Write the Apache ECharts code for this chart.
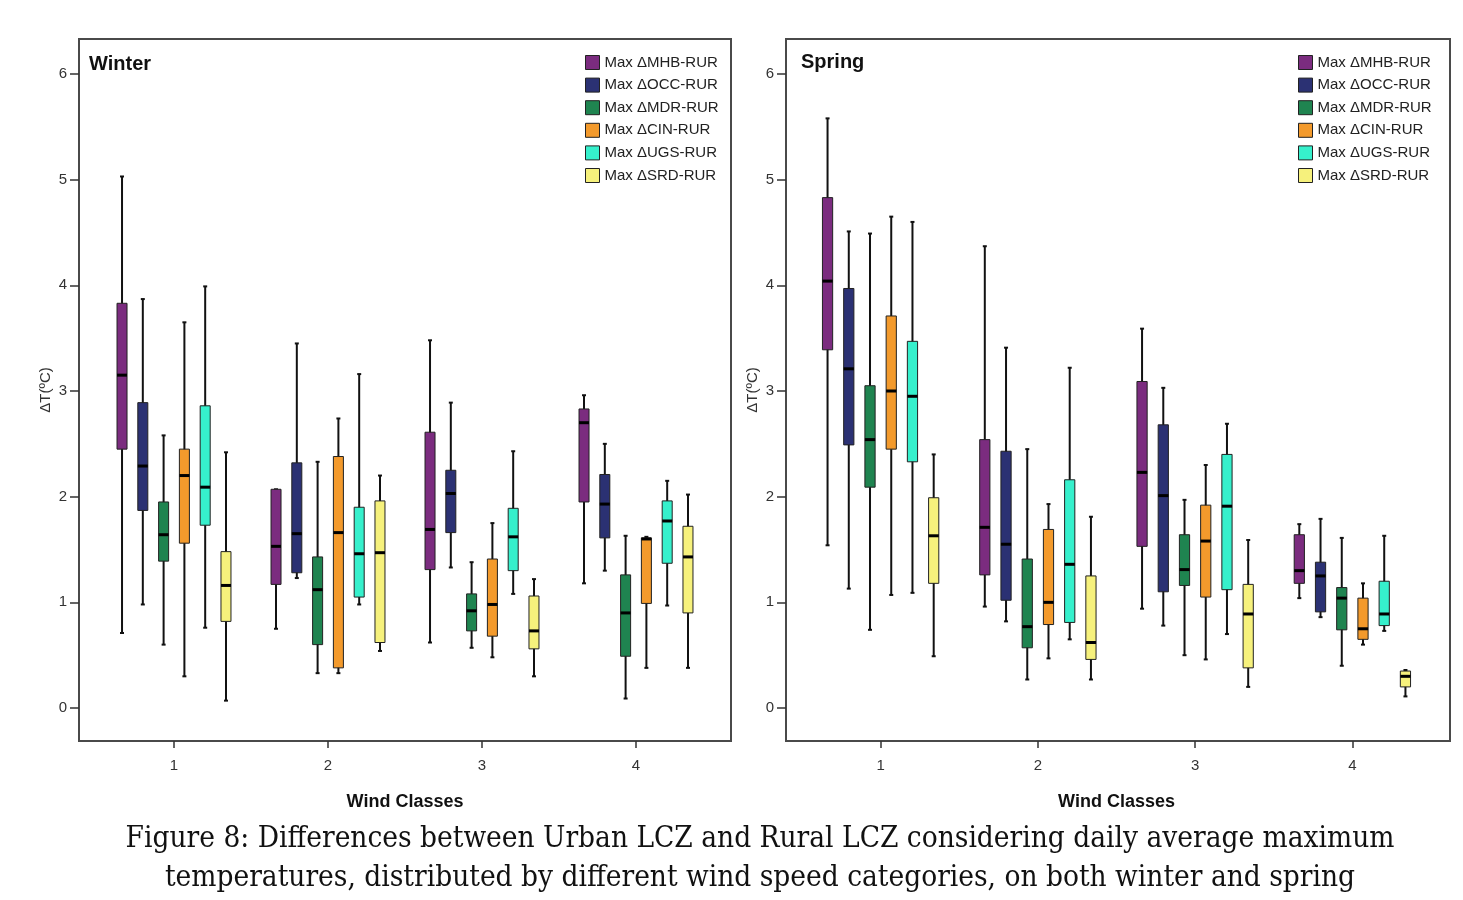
<!DOCTYPE html>
<html lang="en">
<head>
    <meta charset="UTF-8">
    <title>Wind classes - max ΔT boxplots</title>
    <script src="https://cdn.jsdelivr.net/npm/echarts@6/dist/echarts.min.js"></script>
    <style>
        body { margin: 0; background: #fff; }
        #chart { width: 1463px; height: 900px; }
    </style>
</head>
<body>
<div id="chart"></div>
<script>
// categories and tick labels
const windClasses = ['1', '2', '3', '4'];
const yTickValues = [0, 1, 2, 3, 4, 5, 6];
const seriesNames = ['Max ΔMHB-RUR', 'Max ΔOCC-RUR', 'Max ΔMDR-RUR', 'Max ΔCIN-RUR', 'Max ΔUGS-RUR', 'Max ΔSRD-RUR'];

// each row: [min, Q1, median, Q3, max] for wind class 1..4
const winterMHB = [[0.71, 2.45, 3.15, 3.83, 5.03], [0.75, 1.17, 1.53, 2.07, 2.07], [0.62, 1.31, 1.69, 2.61, 3.48], [1.18, 1.95, 2.70, 2.83, 2.96]];
const winterOCC = [[0.98, 1.87, 2.29, 2.89, 3.87], [1.23, 1.28, 1.65, 2.32, 3.45], [1.33, 1.66, 2.03, 2.25, 2.89], [1.30, 1.61, 1.93, 2.21, 2.50]];
const winterMDR = [[0.60, 1.39, 1.64, 1.95, 2.58], [0.33, 0.60, 1.12, 1.43, 2.33], [0.57, 0.73, 0.92, 1.08, 1.38], [0.09, 0.49, 0.90, 1.26, 1.63]];
const winterCIN = [[0.30, 1.56, 2.20, 2.45, 3.65], [0.33, 0.38, 1.66, 2.38, 2.74], [0.48, 0.68, 0.98, 1.41, 1.75], [0.38, 0.99, 1.60, 1.61, 1.62]];
const winterUGS = [[0.76, 1.73, 2.09, 2.86, 3.99], [0.98, 1.05, 1.46, 1.90, 3.16], [1.08, 1.30, 1.62, 1.89, 2.43], [0.97, 1.37, 1.77, 1.96, 2.15]];
const winterSRD = [[0.07, 0.82, 1.16, 1.48, 2.42], [0.54, 0.62, 1.47, 1.96, 2.20], [0.30, 0.56, 0.73, 1.06, 1.22], [0.38, 0.90, 1.43, 1.72, 2.02]];

const springMHB = [[1.54, 3.39, 4.04, 4.83, 5.58], [0.96, 1.26, 1.71, 2.54, 4.37], [0.94, 1.53, 2.23, 3.09, 3.59], [1.04, 1.18, 1.30, 1.64, 1.74]];
const springOCC = [[1.13, 2.49, 3.21, 3.97, 4.51], [0.82, 1.02, 1.55, 2.43, 3.41], [0.78, 1.10, 2.01, 2.68, 3.03], [0.86, 0.91, 1.25, 1.38, 1.79]];
const springMDR = [[0.74, 2.09, 2.54, 3.05, 4.49], [0.27, 0.57, 0.77, 1.41, 2.45], [0.50, 1.16, 1.31, 1.64, 1.97], [0.40, 0.74, 1.04, 1.14, 1.61]];
const springCIN = [[1.07, 2.45, 3.00, 3.71, 4.65], [0.47, 0.79, 1.00, 1.69, 1.93], [0.46, 1.05, 1.58, 1.92, 2.30], [0.60, 0.65, 0.75, 1.04, 1.18]];
const springUGS = [[1.09, 2.33, 2.95, 3.47, 4.60], [0.65, 0.81, 1.36, 2.16, 3.22], [0.70, 1.12, 1.91, 2.40, 2.69], [0.73, 0.78, 0.89, 1.20, 1.63]];
const springSRD = [[0.49, 1.18, 1.63, 1.99, 2.40], [0.27, 0.46, 0.62, 1.25, 1.81], [0.20, 0.38, 0.89, 1.17, 1.59], [0.11, 0.20, 0.30, 0.35, 0.36]];

const winterData = [winterMHB, winterOCC, winterMDR, winterCIN, winterUGS, winterSRD];
const springData = [springMHB, springOCC, springMDR, springCIN, springUGS, springSRD];

const boxColors = ['#7b2c7f', '#2b3173', '#1f8450', '#f39a2c', '#36f0cc', '#f6f17c'];
const sansFont = 'Liberation Sans, Arial, sans-serif';

// draws one box: whisker, caps, box, median line
function boxRenderer(k) {
    return function (params, api) {
        const band = api.size([1, 0])[0];
        const cx = api.coord([api.value(0), 0])[0] + (k - 2.5) * band * 0.135;
        const w = band * 0.065;
        const yMin = api.coord([0, api.value(1)])[1];
        const yQ1 = api.coord([0, api.value(2)])[1];
        const yMed = api.coord([0, api.value(3)])[1];
        const yQ3 = api.coord([0, api.value(4)])[1];
        const yMax = api.coord([0, api.value(5)])[1];
        const black = { stroke: '#111', lineWidth: 2 };
        return {
            type: 'group',
            children: [
                { type: 'line', shape: { x1: cx, y1: yMin, x2: cx, y2: yMax }, style: black },
                { type: 'line', shape: { x1: cx - 2, y1: yMin, x2: cx + 2, y2: yMin }, style: black },
                { type: 'line', shape: { x1: cx - 2, y1: yMax, x2: cx + 2, y2: yMax }, style: black },
                { type: 'rect', shape: { x: cx - w / 2, y: yQ3, width: w, height: yQ1 - yQ3 },
                  style: { fill: api.visual('color'), stroke: '#222', lineWidth: 1 } },
                { type: 'line', shape: { x1: cx - w / 2, y1: yMed, x2: cx + w / 2, y2: yMed },
                  style: { stroke: '#000', lineWidth: 3 } }
            ]
        };
    };
}

function makeSeries(dataSets, axisIdx) {
    return dataSets.map((rows, k) => ({
        name: seriesNames[k],
        type: 'custom',
        xAxisIndex: axisIdx,
        yAxisIndex: axisIdx,
        itemStyle: { color: boxColors[k] },
        encode: { x: 0, y: [1, 2, 3, 4, 5] },
        renderItem: boxRenderer(k),
        data: rows.map((r, i) => [i].concat(r))
    }));
}

function valueAxis(gridIndex, offset) {
    return {
        type: 'value',
        gridIndex: gridIndex,
        min: -0.312,
        max: 6.331,
        offset: offset,
        name: 'ΔT(ºC)',
        nameLocation: 'middle',
        nameGap: 26,
        nameTextStyle: { fontSize: 15, color: '#333', fontFamily: sansFont },
        axisLine: { show: false },
        splitLine: { show: false },
        axisTick: { show: true, length: 9, customValues: yTickValues, lineStyle: { color: '#333', width: 1.5 } },
        axisLabel: { customValues: yTickValues, fontSize: 15, color: '#333', margin: 12, fontFamily: sansFont }
    };
}

function categoryAxis(gridIndex) {
    return {
        type: 'category',
        gridIndex: gridIndex,
        data: windClasses,
        name: 'Wind Classes',
        nameLocation: 'middle',
        nameGap: 52,
        nameTextStyle: { fontSize: 18, fontWeight: 'bold', color: '#111', fontFamily: sansFont },
        axisLine: { show: false, onZero: false },
        axisTick: { show: true, alignWithLabel: true, length: 7, lineStyle: { color: '#333', width: 1.5 } },
        axisLabel: { fontSize: 15, color: '#333', margin: 17, fontFamily: sansFont }
    };
}

function legendFor(left) {
    return {
        data: seriesNames,
        orient: 'vertical',
        left: left,
        top: 55,
        padding: 0,
        itemWidth: 14,
        itemHeight: 14,
        itemGap: 7.6,
        icon: 'rect',
        itemStyle: { borderColor: '#222', borderWidth: 1 },
        textStyle: { fontSize: 15, color: '#222', fontFamily: sansFont }
    };
}

const chart = echarts.init(document.getElementById('chart'));
chart.setOption({
    animation: false,
    title: [
        { text: 'Winter', left: 89, top: 54, padding: 0, textStyle: { fontSize: 20, fontWeight: 'bold', color: '#111', fontFamily: sansFont } },
        { text: 'Spring', left: 801, top: 52, padding: 0, textStyle: { fontSize: 20, fontWeight: 'bold', color: '#111', fontFamily: sansFont } },
        {
            text: 'Figure 8: Differences between Urban LCZ and Rural LCZ considering daily average maximum\ntemperatures, distributed by different wind speed categories, on both winter and spring',
            left: 760, top: 820, padding: 0, textAlign: 'center',
            textStyle: { fontSize: 29.5, fontWeight: 'normal', color: '#111', fontFamily: 'DejaVu Serif Condensed, DejaVu Serif, serif', lineHeight: 39 }
        }
    ],
    legend: [legendFor(585), legendFor(1298)],
    grid: [
        { left: 97, top: 39, width: 616, height: 702 },
        { left: 802, top: 39, width: 629, height: 702 },
        { left: 79, top: 39, width: 652, height: 702, show: true, borderColor: '#4a4a4a', borderWidth: 2, backgroundColor: 'transparent' },
        { left: 786, top: 39, width: 664, height: 702, show: true, borderColor: '#4a4a4a', borderWidth: 2, backgroundColor: 'transparent' }
    ],
    xAxis: [
        categoryAxis(0),
        categoryAxis(1),
        { type: 'value', gridIndex: 2, show: false },
        { type: 'value', gridIndex: 3, show: false }
    ],
    yAxis: [
        valueAxis(0, 18),
        valueAxis(1, 16),
        { type: 'value', gridIndex: 2, show: false },
        { type: 'value', gridIndex: 3, show: false }
    ],
    series: makeSeries(winterData, 0).concat(makeSeries(springData, 1))
});
</script>
</body>
</html>
